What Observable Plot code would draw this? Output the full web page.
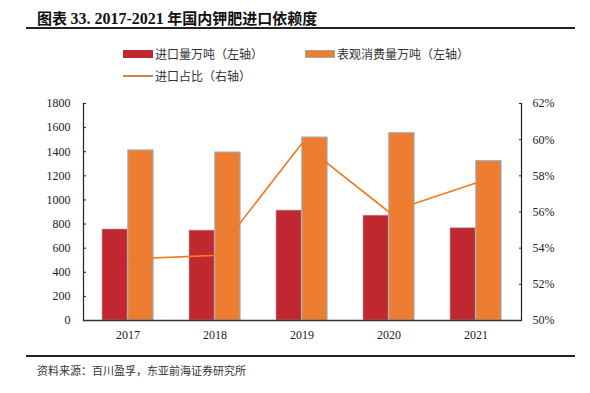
<!DOCTYPE html>
<html><head><meta charset="utf-8">
<script src="https://cdn.jsdelivr.net/npm/d3@7"></script>
<script src="https://cdn.jsdelivr.net/npm/@observablehq/plot@0.6"></script>
<style>
body{margin:0;background:#fff;}
#wrap{position:relative;width:590px;height:393px;overflow:hidden;font-family:"Noto Sans CJK SC",sans-serif;}
#wrap svg{position:absolute;left:0;top:0;}
.abs{position:absolute;white-space:nowrap;}
#title{left:37px;top:7px;font-size:15px;font-weight:bold;color:#111;}
#title .n{font-family:"Liberation Serif","Times New Roman",serif;font-size:16px;}
.hr{position:absolute;left:26px;width:549px;height:2px;background:#222;}
.leg{font-size:12px;color:#333;}
.sw{position:absolute;width:30px;height:8px;}
#src{left:37px;top:362px;font-size:11px;color:#333;}
</style></head>
<body><div id="wrap">
<div id="title" class="abs">图表 <span class="n">33. 2017-2021</span> 年国内钾肥进口依赖度</div>
<div class="hr" style="top:27px"></div>
<div class="sw" style="left:123px;top:50px;background:#C0272F"></div>
<div class="abs leg" style="left:155px;top:45px">进口量万吨（左轴）</div>
<div class="sw" style="left:305px;top:50px;background:#ED7D31;border:1px solid #a6a6a6;box-sizing:border-box"></div>
<div class="abs leg" style="left:337px;top:45px">表观消费量万吨（左轴）</div>
<div class="sw" style="left:123px;top:75px;height:2px;background:#D0804A"></div>
<div class="abs leg" style="left:155px;top:67px">进口占比（右轴）</div>
<div class="hr" style="top:355px"></div>
<div id="src" class="abs">资料来源：百川盈孚，东亚前海证券研究所</div>
</div>
<script>
const years = ["2017","2018","2019","2020","2021"];
const imports = [755, 746, 912, 870, 765];
const consumption = [1410, 1393, 1517, 1553, 1321];
const ratio = [53.4, 53.6, 59.8, 56.0, 57.6];
const leftTicks = [0,200,400,600,800,1000,1200,1400,1600,1800];
const rightTicks = [50,52,54,56,58,60,62];

const toLeft = p => (p - 50) * 150;
const data = years.map((y,i)=>({year:y, imp:imports[i], con:consumption[i], r:toLeft(ratio[i])}));
const serif = "'Liberation Serif','Times New Roman',serif";

const chart = Plot.plot({
  width: 590, height: 393,
  marginLeft: 83, marginRight: 69, marginTop: 103, marginBottom: 73,
  style: {fontFamily: serif, fontSize: "12px", color: "#222", background: "transparent"},
  x: {domain: years, paddingInner: 0.41, paddingOuter: 0.205, label: null},
  y: {domain: [0, 1800], label: null},
  marks: [
    Plot.barY(data, {x: "year", y: "imp", fill: "#C0272F", stroke: "#b0b0b0", strokeWidth: 0.6, insetRight: 25.85}),
    Plot.barY(data, {x: "year", y: "con", fill: "#ED7D31", stroke: "#a6a6a6", strokeWidth: 1.2, insetLeft: 25.85}),
    Plot.line(data, {x: "year", y: "r", stroke: "#F07A22", strokeWidth: 1.6}),
    Plot.frame({anchor: "left", stroke: "#222", strokeWidth: 1.2}),
    Plot.frame({anchor: "right", stroke: "#222", strokeWidth: 1.2}),
    Plot.axisY(leftTicks, {anchor: "left", tickSize: -3, tickPadding: 16, label: null, tickFormat: d => String(d), fontSize: 12}),
    Plot.axisY(rightTicks.map(toLeft), {anchor: "right", tickSize: -3, tickPadding: 14, label: null, tickFormat: v => Math.round(v/150 + 50) + "%", fontSize: 12}),
    Plot.axisX({tickSize: 0, tickPadding: 10, label: null, fontSize: 12}),
    Plot.ruleY([0], {stroke: "#333", strokeWidth: 1.5})
  ]
});
document.getElementById("wrap").prepend(chart);
</script>
</body></html>
